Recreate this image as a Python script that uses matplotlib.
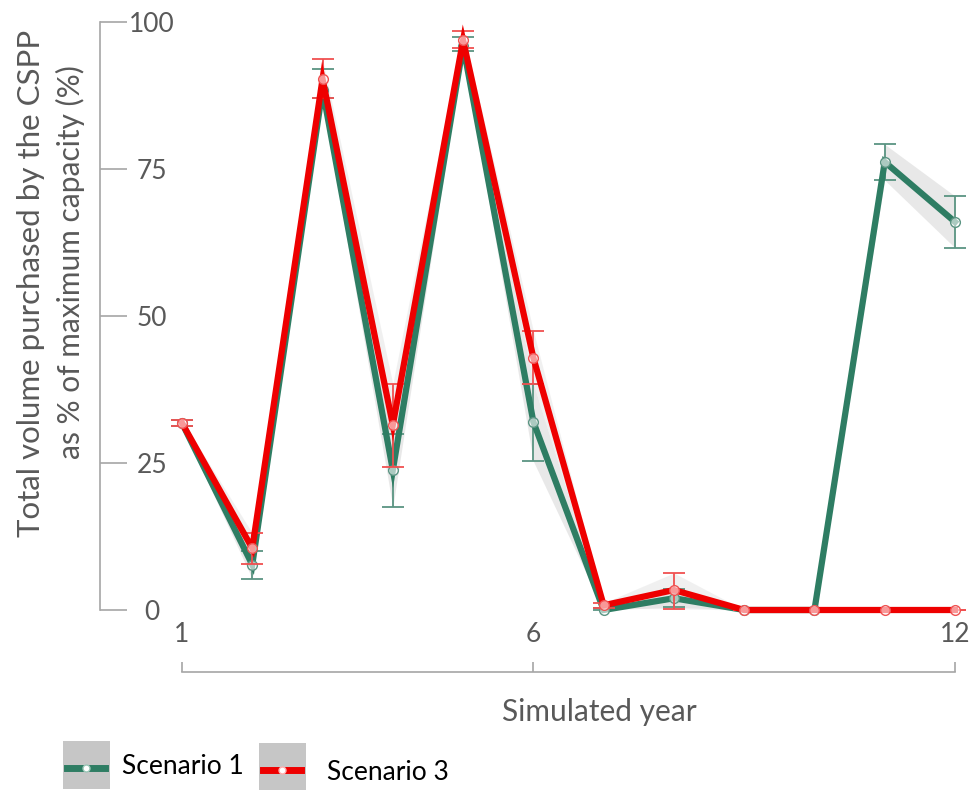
import matplotlib
matplotlib.use("Agg")
import matplotlib.pyplot as plt
from matplotlib.patches import Rectangle
from matplotlib.lines import Line2D
import numpy as np

plt.rcParams['font.family'] = ['Lato', 'DejaVu Sans']

years = list(range(1, 13))
s1_mean = [31.8, 7.7, 88.5, 23.8, 96.0, 32.0, 0.0, 2.0, 0.0, 0.0, 76.2, 66.0]
s1_low  = [31.3, 5.3, 87.0, 17.5, 95.0, 25.3, 0.0, 0.5, 0.0, 0.0, 73.1, 61.6]
s1_high = [32.3, 10.0, 92.0, 30.0, 97.5, 38.5, 0.3, 3.5, 0.0, 0.0, 79.2, 70.4]
s3_mean = [31.8, 10.5, 90.3, 31.5, 96.9, 42.9, 0.8, 3.4, 0.0, 0.0, 0.0, 0.0]
s3_low  = [31.3, 7.8, 87.0, 24.3, 95.5, 38.5, 0.3, 0.2, 0.0, 0.0, 0.0, 0.0]
s3_high = [32.3, 13.1, 93.7, 38.5, 98.5, 47.5, 1.2, 6.3, 0.0, 0.0, 0.0, 0.0]
yticks = [0, 25, 50, 75, 100]
xticks = [1, 6, 12]
labels = ["Scenario 1", "Scenario 3"]
ylabel_lines = ["Total volume purchased by the CSPP", "as % of maximum capacity (%)"]

GREEN = "#2e7d63"
GREEN_EB = "#5a9482"
RED = "#ee0000"
GRAY_TXT = "#595959"

W, H = 970, 790
fig = plt.figure(figsize=(W / 100, H / 100), dpi=100)

ax = fig.add_axes([100 / W, (H - 610) / H, 865 / W, 588 / H])
px_per_unit = (955 - 182) / 11
ax.set_xlim(1 - (182 - 100) / px_per_unit, 12 + (965 - 955) / px_per_unit)
ax.set_ylim(0, 100)

x = np.array(years)
ax.fill_between(x, s1_low, s1_high, color="#e3e3e3", alpha=0.8, lw=0, zorder=1, clip_on=False)
ax.fill_between(x, s3_low, s3_high, color="#e3e3e3", alpha=0.5, lw=0, zorder=1, clip_on=False)

def draw(mean, low, high, color, ebcolor, z):
    m = np.array(mean); lo = np.array(low); hi = np.array(high)
    ax.errorbar(x, m, yerr=[m - lo, hi - m], fmt='none', ecolor=ebcolor,
                elinewidth=1.3, capsize=8, capthick=1.3, zorder=z, clip_on=False)
    ax.plot(x, m, color=color, lw=4.5, zorder=z + 1, clip_on=False, solid_joinstyle='miter')
    ax.plot(x, m, ls='none', marker='o', ms=7, mfc=(1, 1, 1, 0.6), mec=ebcolor,
            mew=1.0, zorder=z + 2, clip_on=False)

draw(s1_mean, s1_low, s1_high, GREEN, GREEN_EB, 3)
draw(s3_mean, s3_low, s3_high, RED, "#f05050", 6)

for s in ["top", "right"]:
    ax.spines[s].set_visible(False)
ax.spines["left"].set_color("#a6a6a6")
ax.spines["left"].set_linewidth(1.2)
ax.spines["left"].set_bounds(0, 100)
ax.spines["bottom"].set_color("#a6a6a6")
ax.spines["bottom"].set_linewidth(1.2)
ax.spines["bottom"].set_position(("outward", 62 * 0.72))
ax.spines["bottom"].set_bounds(1, 12)

ax.set_yticks(yticks)
ax.set_yticklabels([str(v) for v in yticks])
ax.tick_params(axis='y', direction='in', length=27 * 0.72, width=1.2, color="#a6a6a6",
               pad=-52 * 0.72, labelsize=19, labelcolor=GRAY_TXT)
for t in ax.get_yticklabels():
    t.set_horizontalalignment('center')

ax.set_xticks(xticks)
ax.set_xticklabels([str(v) for v in xticks])
ax.tick_params(axis='x', direction='in', length=10 * 0.72, width=1.2, color="#a6a6a6",
               pad=-37 * 0.72, labelsize=19, labelcolor=GRAY_TXT)
for t in ax.get_xticklabels():
    t.set_verticalalignment('center')

ax.set_xlabel("Simulated year", fontsize=21.5, color=GRAY_TXT)
ax.xaxis.set_label_coords((599 - 100) / 865, (610 - 712) / 588)
ax.xaxis.label.set_verticalalignment('center')

fig.text(31 / W, 1 - 283 / H, ylabel_lines[0], rotation=90, ha='center', va='center',
         fontsize=22.5, color=GRAY_TXT)
fig.text(70 / W, 1 - 262 / H, ylabel_lines[1], rotation=90, ha='center', va='center',
         fontsize=21.5, color=GRAY_TXT)

lax = fig.add_axes([0, 0, 1, 1], facecolor='none')
lax.set_xlim(0, W); lax.set_ylim(H, 0); lax.axis('off')
for (bx, by, col, mc), lab, tx, ty in zip(
        [(63, 741, GREEN, "#9cc7b8"), (259, 743, RED, "#ffb0b0")], labels,
        [122, 327], [767, 772]):
    lax.add_patch(Rectangle((bx, by), 47, 48, color="#c6c6c6", lw=0))
    lax.add_line(Line2D([bx + 4, bx + 42], [by + 27, by + 27], color=col, lw=5))
    lax.plot([bx + 23], [by + 27], marker='o', ms=5, mfc="white", mec=mc, mew=1)
    lax.text(tx, ty, lab, fontsize=19, color="black", va='center', ha='left')

fig.savefig("out.png", dpi=100)
